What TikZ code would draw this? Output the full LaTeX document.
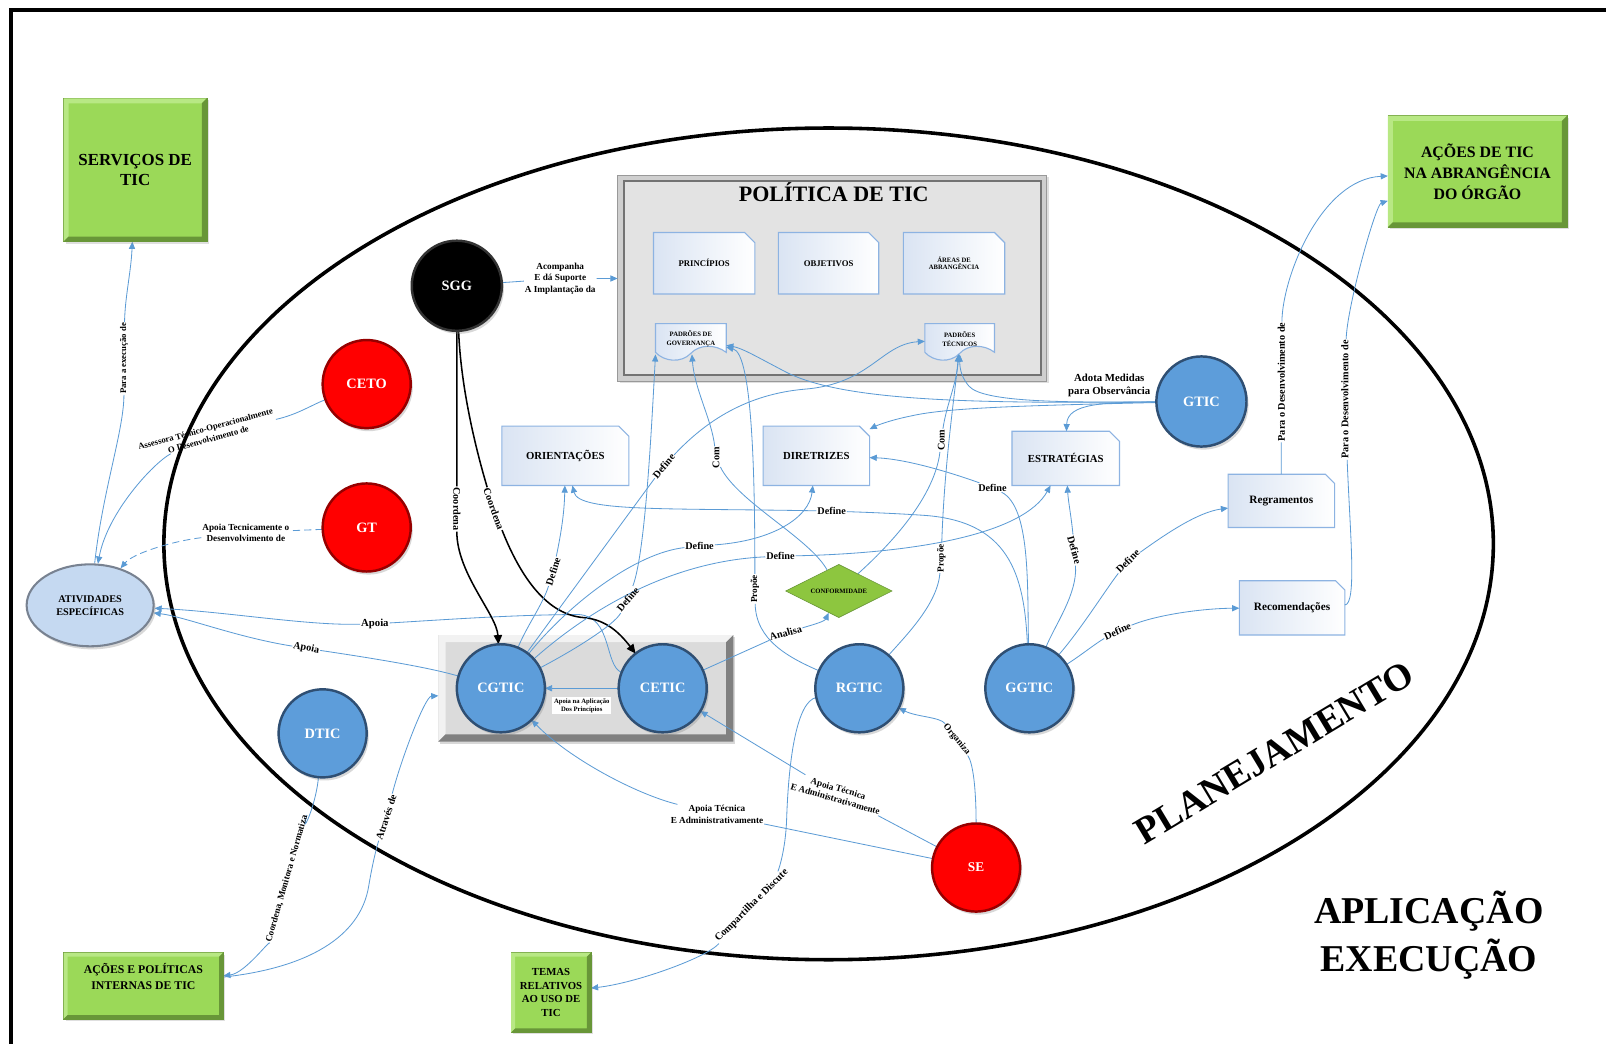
\documentclass[tikz,border=0pt]{standalone}
\usepackage{fontspec}
\setmainfont{Liberation Serif}
\usetikzlibrary{arrows.meta,shapes.geometric,shadows,calc}
\pgfdeclarelayer{bg}
\pgfdeclarelayer{edges}
\pgfsetlayers{bg,edges,main}
\definecolor{lineblue}{RGB}{91,155,213}
\definecolor{ballblue}{RGB}{93,157,218}
\definecolor{balledge}{RGB}{47,79,115}
\definecolor{ballred}{RGB}{255,0,0}
\definecolor{rededge}{RGB}{150,0,0}
\definecolor{grnfill}{RGB}{155,217,88}
\definecolor{grnlight}{RGB}{184,232,132}
\definecolor{grndark}{RGB}{104,150,56}
\definecolor{docline}{RGB}{141,179,226}
\definecolor{docfill}{RGB}{218,228,243}
\definecolor{atvfill}{RGB}{197,217,241}
\definecolor{atvedge}{RGB}{120,130,145}
\definecolor{confgreen}{RGB}{141,198,63}
\newcommand\fsz[2]{\fontsize{#1}{#2}\selectfont}
% bevelled border strips: light on top/left, dark on bottom/right
\newcommand\bevelfx[4]{%
  \fill[#3] (#1.north west) -- (#1.north east) -- ($(#1.north east)+(-#2,#2)$) -- ($(#1.north west)+(#2,#2)$) -- ($(#1.south west)+(#2,-#2)$) -- (#1.south west) -- cycle;
  \fill[#4] (#1.south east) -- (#1.south west) -- ($(#1.south west)+(#2,-#2)$) -- ($(#1.south east)+(-#2,-#2)$) -- ($(#1.north east)+(-#2,#2)$) -- (#1.north east) -- cycle;}
% note sheet with a snipped top-right corner
\newcommand\docfx[2]{%
  \path[docsh] (#1.north west) -- ($(#1.north east)+(-#2,0)$) -- ($(#1.north east)+(0,#2)$) -- (#1.south east) -- (#1.south west) -- cycle;}
% document sheet with a wavy lower edge
\newcommand\wavedoc[2]{%
  \path[docsh] (#1,316) -- (#2,316) -- (#2,344) .. controls ({#2-0.15*(#2-#1)},336) and ({#1+0.62*(#2-#1)},336) .. ({#1+0.5*(#2-#1)},345) .. controls ({#1+0.36*(#2-#1)},355) and ({#1+0.12*(#2-#1)},353) .. (#1,344) -- cycle;}
\tikzset{
  ball/.style={circle, minimum size=86pt, inner sep=0pt, outer sep=0pt, line width=2.4pt,
    font=\bfseries\fsz{14}{16}, text=white,
    drop shadow={opacity=0.3, shadow xshift=2pt, shadow yshift=-3pt}},
  blueball/.style={ball, fill=ballblue, draw=balledge},
  redball/.style={ball, fill=ballred, draw=rededge},
  greenbox/.style={rectangle, fill=grnfill, draw=grndark, line width=0.6pt, inner sep=2pt,
    outer sep=0pt, align=center,
    drop shadow={opacity=0.25, shadow xshift=2pt, shadow yshift=-2pt}},
  doctext/.style={rectangle, inner sep=0pt, outer sep=0pt, align=center},
  docsh/.style={left color=docfill, right color=white, draw=docline, line width=1.1pt},
  lbl/.style={font=\bfseries\fsz{10}{11}, inner sep=0.8pt, align=center},
  conn/.style={draw=lineblue, line width=0.8pt},
  connarr/.style={conn, -{Triangle[length=7pt,width=6pt]}},
  blackarr/.style={draw=black, line width=1.5pt, -{Triangle[length=9pt,width=8pt]}}
}
\begin{document}
\begin{tikzpicture}[x=1pt,y=-1pt]
\useasboundingbox (0,0) rectangle (1568,1019);

% ---------- background: page, frame, planning ellipse, containers ----------
\begin{pgfonlayer}{bg}
  \fill[white] (0,0) rectangle (1568,1019);
  \draw[line width=4pt] (11,1019) -- (11,10) -- (1568,10);
  \draw[line width=3.5pt] (809,531) ellipse [x radius=649pt, y radius=406pt];
  \node[rectangle, minimum width=419pt, minimum height=201pt, inner sep=0pt, outer sep=0pt,
        fill=black!19, draw=black!40, line width=0.8pt,
        drop shadow={opacity=0.25, shadow xshift=2pt, shadow yshift=-2pt}] (pol) at (812.5,271.5) {};
  \draw[fill=black!11, draw=black!55, line width=1.8pt]
        ($(pol.north west)+(6,6)$) rectangle ($(pol.south east)+(-6,-6)$);
  \node[rectangle, minimum width=288pt, minimum height=104pt, inner sep=0pt, outer sep=0pt,
        fill=black!14, drop shadow={opacity=0.3, shadow xshift=2pt, shadow yshift=-2pt}] (cont) at (572,672) {};
  \bevelfx{cont}{7}{black!5}{black!50}
\end{pgfonlayer}

% ---------- green result boxes ----------
\node[greenbox, minimum width=140pt, minimum height=140pt, font=\bfseries\fsz{16.5}{20}] (serv) at (132,166) {SERVIÇOS DE\\TIC};
\bevelfx{serv}{5}{grnlight}{grndark}
\node[greenbox, minimum width=175pt, minimum height=109pt, font=\bfseries\fsz{15.5}{20.5}] (acoes) at (1442.5,167.5) {AÇÕES DE TIC\\NA ABRANGÊNCIA\\DO ÓRGÃO};
\bevelfx{acoes}{5}{grnlight}{grndark}
\node[greenbox, minimum width=156pt, minimum height=65pt, font=\bfseries\fsz{11.5}{15}] (aep) at (140,962.5) {AÇÕES E POLÍTICAS\\INTERNAS DE TIC\\[3pt]};
\bevelfx{aep}{4}{grnlight}{grndark}
\node[greenbox, minimum width=78pt, minimum height=78pt, font=\bfseries\fsz{10.5}{13.5}] (temas) at (538,969) {TEMAS\\RELATIVOS\\AO USO DE\\TIC};
\bevelfx{temas}{4}{grnlight}{grndark}

\node[ellipse, minimum width=124pt, minimum height=80pt, inner sep=0pt, fill=atvfill, draw=atvedge,
      line width=2pt, font=\bfseries\fsz{10}{12.5}, align=center,
      drop shadow={opacity=0.3, shadow xshift=2pt, shadow yshift=-3pt}] (ativ) at (88,591) {ATIVIDADES\\ESPECÍFICAS};

% ---------- actors ----------
\node[redball] (ceto) at (358,375) {CETO};
\node[redball] (gt) at (358,515) {GT};
\node[ball, minimum size=88pt, fill=black, draw=black!80] (sgg) at (446,279) {SGG};
\node[blueball, minimum size=88pt] (gtic) at (1173,392) {GTIC};
\node[blueball] (cgtic) at (489,672) {CGTIC};
\node[blueball] (cetic) at (647,672) {CETIC};
\node[blueball] (rgtic) at (839,672) {RGTIC};
\node[blueball] (ggtic) at (1005,672) {GGTIC};
\node[blueball] (dtic) at (315,716) {DTIC};
\node[redball, font=\bfseries\fsz{13}{15}] (se) at (953,847) {SE};

% ---------- policy contents and products ----------
\node[font=\bfseries\fsz{21.5}{24}] (poltitle) at (814,188) {POLÍTICA DE TIC};
\node[doctext, minimum width=99pt, minimum height=60pt, font=\bfseries\fsz{8.5}{10}] (princ) at (687.5,257) {PRINCÍPIOS};
\node[doctext, minimum width=98pt, minimum height=60pt, font=\bfseries\fsz{8.5}{10}] (obj) at (809,257) {OBJETIVOS};
\node[doctext, minimum width=99pt, minimum height=60pt, font=\bfseries\fsz{6.5}{7.5}] (areas) at (931.5,257) {ÁREAS DE\\ABRANGÊNCIA};
\node[doctext, minimum width=69pt, minimum height=30pt, font=\bfseries\fsz{6.5}{8.5}] (pg) at (674.5,331) {PADRÕES DE\\GOVERNANÇA};
\node[doctext, minimum width=68pt, minimum height=30pt, font=\bfseries\fsz{6.5}{8.5}] (pt) at (937,331) {PADRÕES\\TÉCNICOS};
\node[doctext, minimum width=124pt, minimum height=58pt, font=\bfseries\fsz{10.5}{12}] (ori) at (552,445) {ORIENTAÇÕES};
\node[doctext, minimum width=104pt, minimum height=58pt, font=\bfseries\fsz{10.5}{12}] (dir) at (797,445) {DIRETRIZES};
\node[doctext, minimum width=105pt, minimum height=53pt, font=\bfseries\fsz{10.5}{12}] (est) at (1040.5,447.5) {ESTRATÉGIAS};
\node[doctext, minimum width=104pt, minimum height=52pt, font=\bfseries\fsz{11}{12}] (reg) at (1251,489) {Regramentos};
\node[doctext, minimum width=103pt, minimum height=53pt, font=\bfseries\fsz{11}{12}] (rec) at (1261.5,593.5) {Recomendações};
\node[diamond, aspect=2, minimum width=104pt, minimum height=52pt, inner sep=0pt, fill=confgreen,
      draw=grndark, line width=0.6pt, font=\bfseries\fsz{6.5}{7}] (conf) at (819,577) {CONFORMIDADE};

\begin{pgfonlayer}{bg}
  \docfx{princ}{10} \docfx{obj}{10} \docfx{areas}{10}
  \docfx{ori}{10} \docfx{dir}{10} \docfx{est}{10}
  \docfx{reg}{9} \docfx{rec}{9}
  \wavedoc{640}{709} \wavedoc{903}{971}
\end{pgfonlayer}

% ---------- connector labels ----------
\node[lbl, font=\bfseries\fsz{8.5}{9.5}, rotate=90] (l1) at (121,350) {Para a execução de};
\node[lbl, font=\bfseries\fsz{8.5}{10.5}, rotate=15] (l2) at (202,424) {Assessora Técnico-Operacionalmente\\O Desenvolvimento de};
\node[lbl, font=\bfseries\fsz{9}{11}] (l3) at (240,520) {Apoia Tecnicamente o\\Desenvolvimento de};
\node[lbl, font=\bfseries\fsz{10.5}{11}] (l4) at (366,609) {Apoia};
\node[lbl, rotate=-11] (l5) at (299,633) {Apoia};
\node[lbl, font=\bfseries\fsz{9}{11.5}] (l6) at (547,272) {Acompanha\\E dá Suporte\\A Implantação da};
\node[lbl, rotate=-90] (l7) at (446,497) {Coordena};
\node[lbl, rotate=-70] (l8) at (482,497) {Coordena};
\node[lbl, font=\bfseries\fsz{6.5}{7.5}, fill=white, inner sep=1.5pt] (l9) at (568,689) {Apoia na Aplicação\\Dos Princípios};
\node[lbl, rotate=16] (l10) at (767,618) {Analisa};
\node[lbl, font=\bfseries\fsz{9}{10}, rotate=90] (l11) at (737,575) {Propõe};
\node[lbl, font=\bfseries\fsz{9}{10}, rotate=90] (l12) at (919,545) {Propõe};
\node[lbl, rotate=90] (l13) at (699,447) {Com};
\node[lbl, rotate=90] (l14) at (919,430) {Com};
\node[lbl, rotate=50] (l15) at (648,455) {Define};
\node[lbl, rotate=50] (l16) at (613,585) {Define};
\node[lbl, rotate=72] (l17) at (540,558) {Define};
\node[lbl] (l18) at (683,533) {Define};
\node[lbl] (l19) at (762,543) {Define};
\node[lbl] (l20) at (812,499) {Define};
\node[lbl] (l21) at (969,476) {Define};
\node[lbl, rotate=-74] (l22) at (1049,537) {Define};
\node[lbl, rotate=45] (l23) at (1101,548) {Define};
\node[lbl, rotate=25] (l24) at (1091,616) {Define};
\node[lbl, font=\bfseries\fsz{10}{11}, rotate=90] (l25) at (1251,373) {Para o Desenvolvimento de};
\node[lbl, font=\bfseries\fsz{10}{11}, rotate=90] (l26) at (1313,390) {Para o Desenvolvimento de};
\node[lbl, font=\bfseries\fsz{9}{10}, rotate=-50] (l27) at (934,722) {Organiza};
\node[lbl, font=\bfseries\fsz{9}{10.5}, rotate=-16] (l28) at (817,775) {Apoia Técnica\\E Administrativamente};
\node[lbl, font=\bfseries\fsz{9}{11}] (l29) at (700,795) {Apoia Técnica\\E Administrativamente};
\node[lbl, rotate=45] (l30) at (734,884) {Compartilha e Discute};
\node[lbl, font=\bfseries\fsz{9}{10}, rotate=74] (l31) at (280,858) {Coordena, Monitora e Normatiza};
\node[lbl, rotate=72] (l32) at (377,798) {Através de};
\node[lbl, font=\bfseries\fsz{10.5}{13}] (l33) at (1083,376) {Adota Medidas\\para Observância};

% ---------- area titles ----------
\node[font=\bfseries\fsz{37}{40}, rotate=31] (plan) at (1244,735) {PLANEJAMENTO};
\node[font=\bfseries\fsz{37}{47}, align=center] (aplic) at (1395,913) {APLICAÇÃO\\EXECUÇÃO};

% ---------- connectors ----------
\begin{pgfonlayer}{edges}
  \draw[connarr] (ativ) .. controls (100,480) and (121,420) .. (l1) .. controls (122,290) and (128,265) .. (serv);
  \draw[connarr] (ceto) .. controls (305,395) and (290,405) .. (l2) .. controls (150,452) and (105,500) .. (ativ);
  \draw[connarr, dashed, dash pattern=on 7pt off 4pt] (gt) -- (l3) .. controls (170,528) and (130,540) .. (ativ);
  \draw[connarr] (cetic) .. controls (590,650) and (598,602) .. (565,600) .. controls (500,600) and (420,606) .. (l4) .. controls (300,611) and (220,597) .. (ativ);
  \draw[connarr] (cgtic) .. controls (430,655) and (400,648) .. (l5) .. controls (230,622) and (180,602) .. (ativ);
  \draw[connarr] (sgg) -- (l6) -- (pol);
  \draw[blackarr] (sgg) -- (l7) .. controls (446,560) and (485,600) .. (cgtic);
  \draw[blackarr] (sgg) .. controls (450,380) and (465,440) .. (l8) .. controls (505,555) and (530,600) .. (570,603) .. controls (592,605) and (605,618) .. (cetic);
  \draw[connarr] (cetic) -- (cgtic);
  \draw[connarr] (cetic) -- (l10) .. controls (790,611) and (805,607) .. (conf);
  \draw[connarr] (rgtic) .. controls (770,642) and (738,625) .. (l11) .. controls (737,470) and (735,345) .. (pg);
  \draw[connarr] (rgtic) .. controls (885,620) and (915,590) .. (l12) .. controls (922,450) and (933,380) .. (pt);
  \draw[connarr] (conf) .. controls (790,525) and (720,490) .. (l13) .. controls (695,410) and (678,380) .. (pg);
  \draw[connarr] (conf) .. controls (860,540) and (912,490) .. (l14) .. controls (924,395) and (934,375) .. (pt);
  \draw[connarr] (cgtic) .. controls (560,575) and (615,500) .. (l15) .. controls (690,410) and (730,385) .. (785,380) .. controls (850,375) and (860,336) .. (pt);
  \draw[connarr] (cgtic) .. controls (560,635) and (600,610) .. (l16) .. controls (630,540) and (636,420) .. (pg.south west);
  \draw[connarr] (cgtic) .. controls (515,610) and (530,590) .. (l17) .. controls (548,520) and (551,500) .. (ori);
  \draw[connarr] (cgtic) .. controls (555,590) and (620,540) .. (l18) .. controls (755,528) and (790,505) .. (dir);
  \draw[connarr] (cgtic) .. controls (570,600) and (650,548) .. (l19) .. controls (900,540) and (1000,520) .. (est);
  \draw[connarr] (ggtic) .. controls (1000,560) and (985,508) .. (900,503) .. controls (870,501) and (840,500) .. (l20) .. controls (650,496) and (565,500) .. (ori);
  \draw[connarr] (ggtic) .. controls (1003,570) and (1006,495) .. (l21) .. controls (930,462) and (885,448) .. (dir);
  \draw[connarr] (ggtic) .. controls (1030,610) and (1052,580) .. (l22) .. controls (1046,505) and (1043,490) .. (est);
  \draw[connarr] (ggtic) .. controls (1055,615) and (1080,575) .. (l23) .. controls (1140,520) and (1170,500) .. (reg);
  \draw[connarr] (ggtic) .. controls (1055,640) and (1070,628) .. (l24) .. controls (1130,600) and (1175,594) .. (rec);
  \draw[connarr] (reg) -- (l25) .. controls (1252,270) and (1290,175) .. (acoes);
  \draw[connarr] (rec) .. controls (1325,590) and (1318,520) .. (l26) .. controls (1315,300) and (1343,200) .. (acoes);
  \draw[connarr] (se) .. controls (953,770) and (950,745) .. (l27) .. controls (918,700) and (895,700) .. (rgtic);
  \draw[connarr] (se) -- (l28) -- (cetic);
  \draw[connarr] (se) -- (l29) .. controls (620,775) and (555,740) .. (cgtic);
  \draw[connarr] (rgtic) .. controls (778,685) and (770,740) .. (768,800) .. controls (767,830) and (760,850) .. (l30) .. controls (690,935) and (620,960) .. (temas);
  \draw[connarr] (dtic) .. controls (308,790) and (292,820) .. (l31) .. controls (265,915) and (240,950) .. (aep);
  \draw[connarr] (aep) .. controls (300,945) and (352,915) .. (360,865) .. controls (365,835) and (370,820) .. (l32) .. controls (392,740) and (415,680) .. (cont);
  \draw[connarr] (gtic) .. controls (950,394) and (820,392) .. (765,362) .. controls (740,349) and (725,340) .. (pg);
  \draw[connarr] (gtic) .. controls (1040,393) and (960,393) .. (946,377) .. controls (940,370) and (937,362) .. (pt);
  \draw[connarr] (gtic) .. controls (1000,396) and (925,398) .. (890,406) .. controls (870,410) and (857,415) .. (dir);
  \draw[connarr] (gtic) .. controls (1080,393) and (1042,393) .. (est);
\end{pgfonlayer}
\end{tikzpicture}
\end{document}
